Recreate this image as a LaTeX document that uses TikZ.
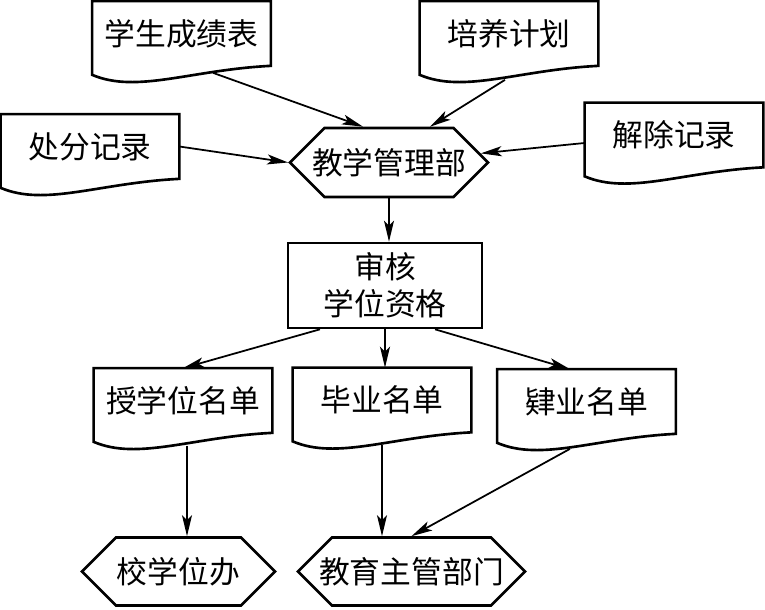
\documentclass[tikz,border=0pt]{standalone}
\usepackage{fontspec}
\newfontfamily\cjk{Noto Sans CJK SC}
\usetikzlibrary{arrows.meta,shapes.symbols}

\tikzset{
    doc/.style={minimum width=3.56cm, minimum height=1.28cm, inner sep=0pt},
    docline/.style={line width=1.5pt},
    hexa/.style={draw, line width=1.5pt, signal, signal to=west and east,
        signal pointer angle=90, minimum height=1.36cm, inner ysep=0pt, inner xsep=-0.35cm},
    box/.style={draw, line width=1.5pt, minimum width=3.88cm, minimum height=1.70cm, align=center},
    arr/.style={line width=1pt, -{Stealth[length=0.42cm, width=0.2cm, inset=0.1cm]}}
}

\begin{document}
\begin{tikzpicture}[font=\cjk\fontsize{17.5}{21}\selectfont]
    \useasboundingbox (0,0) rectangle (15.3,12.18);

    % documents
    \node[doc] (cj) at (3.63,11.51) {学生成绩表};
    \node[doc] (py) at (10.18,11.51) {培养计划};
    \node[doc] (cf) at (1.80,9.25) {处分记录};
    \node[doc] (jc) at (13.48,9.48) {解除记录};
    \node[doc] (sxw) at (3.66,4.17) {授学位名单};
    \node[doc] (by) at (7.64,4.18) {毕业名单};
    \node[doc] (yy) at (11.73,4.15) {肄业名单};

    \foreach \n in {cj,py,cf,jc,sxw,by,yy}
        \draw[docline] (\n.north west) -- (\n.north east) -- (\n.south east)
            .. controls +(-1.6,-0.08) and +(0.89,-0.38) .. ([yshift=-0.18cm]\n.south west) -- cycle;

    % departments
    \node[hexa, minimum width=3.96cm, minimum height=1.38cm] (jx) at (7.78,8.93) {教学管理部};
    \node[hexa, minimum width=3.86cm] (xxw) at (3.57,0.75) {校学位办};
    \node[hexa, minimum width=4.54cm] (jy) at (8.23,0.75) {教育主管部门};

    \node[box] (sh) at (7.70,6.47) {审核\\学位资格};

    \draw[arr] ([xshift=0.63cm,yshift=-0.14cm]cj.south) -- ([xshift=-0.52cm]jx.north);
    \draw[arr] ([xshift=-0.08cm,yshift=-0.28cm]py.south) -- ([xshift=0.82cm]jx.north);
    \draw[arr] (cf.east) -- (jx.west);
    \draw[arr] ([yshift=-0.16cm]jc.west) -- (jx);
    \draw[arr] (jx.south) -- (jx.south |- sh.north);

    \draw[arr] ([xshift=-1.3cm]sh.south) -- (sxw.north);
    \draw[arr] (sh.south) -- (sh.south |- by.north);
    \draw[arr] ([xshift=1.0cm]sh.south) -- ([xshift=-0.33cm]yy.north);

    \draw[arr] ([xshift=0.08cm,yshift=-0.26cm]sxw.south) -- ([xshift=0.08cm]sxw.south |- xxw.north);
    \draw[arr] ([yshift=-0.26cm]by.south) -- (by.south |- jy.north);
    \draw[arr] ([xshift=-0.33cm,yshift=-0.3cm]yy.south) -- (jy.north);
\end{tikzpicture}
\end{document}
